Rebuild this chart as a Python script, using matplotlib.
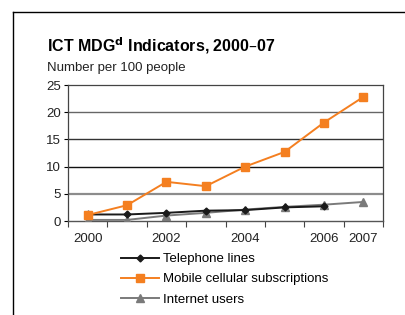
import matplotlib
matplotlib.use("Agg")
import matplotlib.pyplot as plt
from matplotlib.lines import Line2D
import numpy as np

plt.rcParams['font.family'] = ['Liberation Sans', 'DejaVu Sans']

years = ['2000', '2001', '2002', '2003', '2004', '2005', '2006', '2007']
tick_labels = ['2000', '', '2002', '', '2004', '', '2006', '2007']
telephone = [1.2, 1.2, 1.5, 1.9, 2.0, 2.5, 2.7]
mobile = [1.1, 2.9, 7.2, 6.4, 10.0, 12.7, 18.1, 22.8]
internet = [0.2, 0.2, 1.0, 1.5, 2.1, 2.6, 3.0, 3.5]
y_ticks = [0, 5, 10, 15, 20, 25]

orange = '#f47f20'
gray = '#7a7a7a'
dark = '#1a1a1a'

fig = plt.figure(figsize=(4.05, 3.15), dpi=100)

# outer frame (left and top edges)
fig.add_artist(Line2D([13/405, 13/405], [0, 1 - 12/315], color='black', lw=1.0))
fig.add_artist(Line2D([13/405, 1], [1 - 12/315, 1 - 12/315], color='black', lw=1.0))

fig.text(47/405, 1 - 51/315, 'ICT MDG$^{\\mathbf{d}}$ Indicators, 2000–07',
         fontsize=11.5, fontweight='bold', va='baseline', ha='left')
fig.text(47/405, 1 - 71/315, 'Number per 100 people', fontsize=9.5,
         va='baseline', ha='left', color='#222222')

ax = fig.add_axes([68/405, 1 - 221/315, 315/405, 136/315])
x = np.arange(len(years))

# gridlines (the scanned original shows slightly different greys)
grid_styles = {5: ('#8c8c8c', 1.6), 10: ('#111111', 1.0), 15: ('#333333', 1.0), 20: ('#666666', 1.0)}
for yv, (c, w) in grid_styles.items():
    ax.axhline(yv, color=c, lw=w, zorder=1)

ax.plot(x, internet, color=gray, marker='^', markersize=6, lw=1.4, zorder=3)
ax.plot(x[:len(telephone)], telephone, color=dark, marker='D', markersize=3.5, lw=1.4, zorder=4)
ax.plot(x, mobile, color=orange, marker='s', markersize=5.5, lw=1.4, zorder=5)

ax.set_xlim(-0.5, 7.5)
ax.set_ylim(0, 25)
ax.set_yticks(y_ticks)
ax.set_xticks(x)
ax.set_xticklabels(tick_labels)
ax.set_xticks(np.arange(-0.5, 8, 1), minor=True)
ax.tick_params(axis='x', which='major', length=0, pad=9, labelsize=9.5)
ax.tick_params(axis='x', which='minor', length=4, width=0.8, color='#444444')
ax.tick_params(axis='y', length=3, width=0.8, pad=2, labelsize=9.5)
for t in ax.get_xticklabels() + ax.get_yticklabels():
    t.set_color('#222222')

for s in ['left', 'right', 'top']:
    ax.spines[s].set_color('#444444')
    ax.spines[s].set_linewidth(0.9)
ax.spines['bottom'].set_color('#555555')
ax.spines['bottom'].set_linewidth(1.0)

handles = [
    Line2D([], [], color=dark, marker='D', markersize=3.5, lw=1.4),
    Line2D([], [], color=orange, marker='s', markersize=5.5, lw=1.4),
    Line2D([], [], color=gray, marker='^', markersize=6, lw=1.4),
]
labels = ['Telephone lines', 'Mobile cellular subscriptions', 'Internet users']
fig.legend(handles, labels, loc='upper left', bbox_to_anchor=(121/405, 1 - 253/315),
           frameon=False, fontsize=9.5, handlelength=2.9, handletextpad=0.25,
           labelspacing=0.6, borderpad=0, borderaxespad=0)

fig.savefig('out.png', dpi=100)
